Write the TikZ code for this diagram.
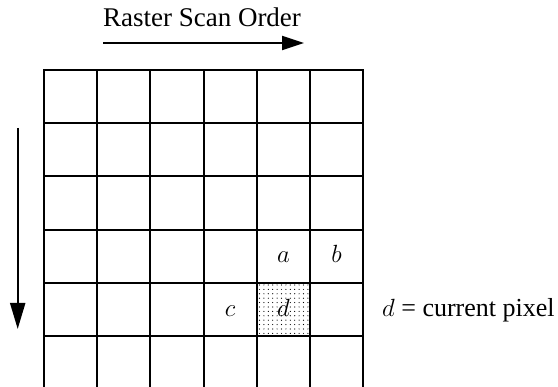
\documentclass[tikz,border=0pt]{standalone}
\usepackage{fontspec}
\setmainfont{Liberation Serif}
\usetikzlibrary{arrows.meta}
\begin{document}
\begin{tikzpicture}[x=1pt,y=-1pt,
  gridline/.style={line width=2pt,line cap=rect},
  scanarrow/.style={line width=2pt,-{Triangle[length=22pt,width=14pt]}},
  rowarrow/.style={line width=2pt,-{Triangle[length=26pt,width=15pt]}},
  txt/.style={font=\fontsize{27}{32}\selectfont, inner sep=0pt, anchor=base},
  lbl/.style={font=\fontsize{28}{32}\selectfont, inner sep=0pt, anchor=base}]
\useasboundingbox (0,0) rectangle (558,387);
% shaded current pixel
\foreach \i in {0,...,11}
  \foreach \j in {0,...,11}
    \fill (259.5+\i*4.4, 285+\j*4.4) circle (0.6);
% grid
\foreach \i in {0,...,6}
  \draw[gridline] (44+\i*53.2,70) -- (44+\i*53.2,392);
\foreach \j in {0,...,5}
  \draw[gridline] (44,70+\j*53.2) -- (363.2,70+\j*53.2);
% scan order
\node[txt] (title) at (202,26.7) {Raster Scan Order};
\coordinate (hs) at (103,43);
\coordinate (he) at (304,43);
\draw[scanarrow] (hs) -- (he);
\coordinate (vs) at (17.7,128);
\coordinate (ve) at (17.7,329);
\draw[rowarrow] (vs) -- (ve);
% labels
\node[lbl] (a) at (283.4,263) {$a$};
\node[lbl] (b) at (336.6,263) {$b$};
\node[lbl] (c) at (230.2,317) {$c$};
\node[lbl] (d) at (283.4,317) {$d$};
\node[txt,anchor=base west] (legend) at (382,317) {\fontsize{28}{32}\selectfont$d$\fontsize{26}{32}\selectfont{} = current pixel};
\end{tikzpicture}
\end{document}
